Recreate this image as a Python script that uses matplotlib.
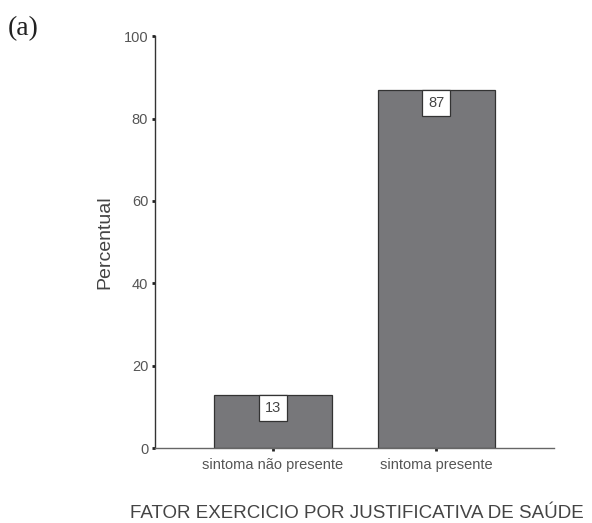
import numpy as np
import matplotlib.pyplot as plt

# data
categories = ["sintoma não presente", "sintoma presente"]
percent = [13, 87]
yticks = [0, 20, 40, 60, 80, 100]

fig = plt.figure(figsize=(5.92, 5.23), dpi=100)
ax = fig.add_axes([0.262, 0.143, 0.674, 0.788])

x = np.arange(len(categories))
bars = ax.bar(x, percent, width=0.72, color="#77777a", edgecolor="#333333", linewidth=0.9)

# value boxes just below the top of each bar
for xi, v in zip(x, percent):
    ax.text(xi, v - 1.5, f"{v}", ha="center", va="top", fontsize=10.5,
            color="#444444", family="Liberation Sans",
            bbox=dict(boxstyle="square,pad=0.4", fc="white", ec="#333333", lw=0.9))

ax.set_xlim(-0.72, 1.72)
ax.set_ylim(0, 100)
ax.set_yticks(yticks)
ax.set_xticks(x)
ax.set_xticklabels(categories)

for s in ["top", "right"]:
    ax.spines[s].set_visible(False)
ax.spines["left"].set_color("#333333")
ax.spines["bottom"].set_color("#666666")
ax.spines["left"].set_linewidth(1.0)
ax.spines["bottom"].set_linewidth(1.0)

ax.tick_params(axis="both", length=2, width=2, color="#222222", labelcolor="#555555",
               labelsize=10.5, pad=3)
ax.tick_params(axis="x", pad=5)
for lab in ax.get_xticklabels() + ax.get_yticklabels():
    lab.set_family("Liberation Sans")

ax.set_ylabel("Percentual", fontsize=14, color="#444444", family="Liberation Sans", labelpad=7)

fig.text(0.603, 0.01, "FATOR EXERCICIO POR JUSTIFICATIVA DE SAÚDE", fontsize=13.5,
         color="#444444", family="Liberation Sans", ha="center", va="baseline")

fig.text(0.013, 0.946, "(a)", fontsize=20, family="Liberation Serif", color="#222222",
         va="center")

fig.savefig("out.png", dpi=100)
